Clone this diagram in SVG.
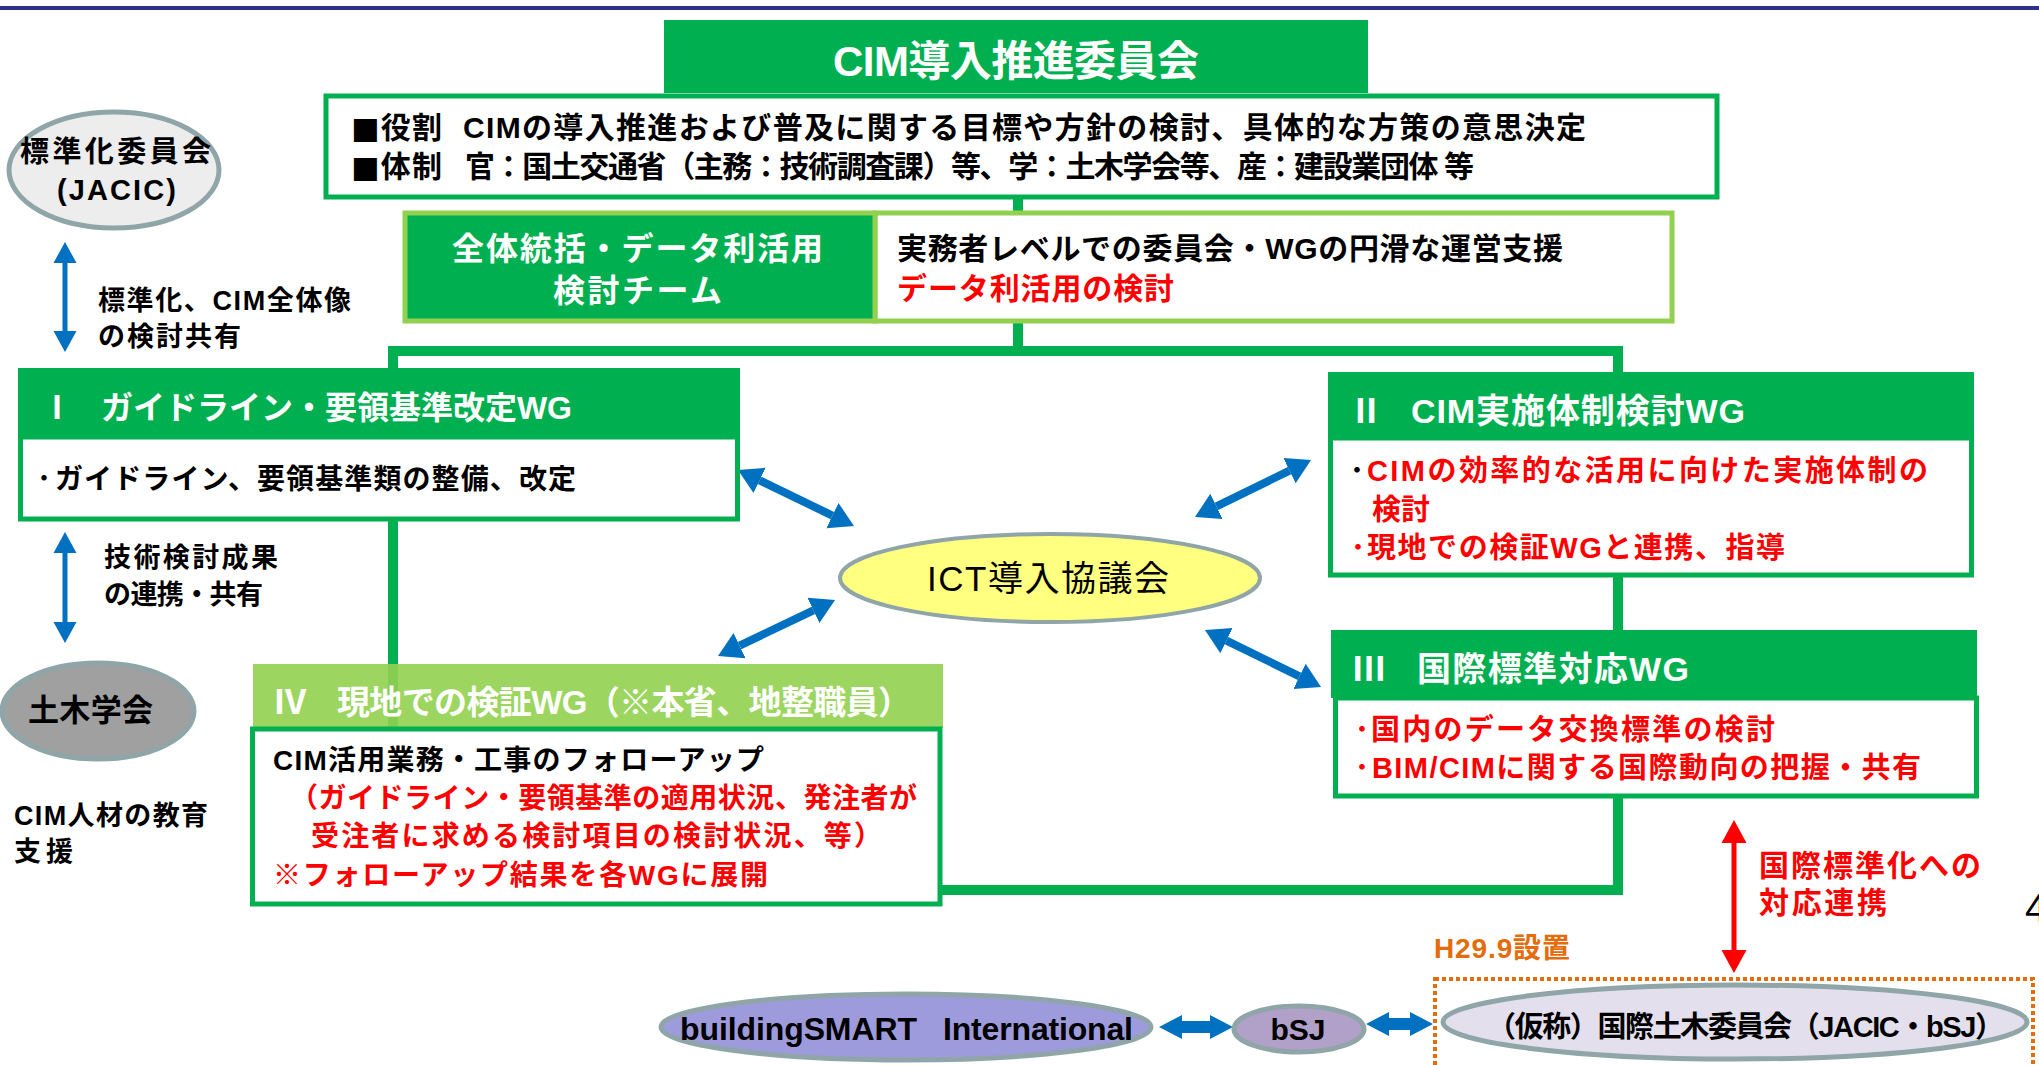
<svg xmlns="http://www.w3.org/2000/svg" width="2039" height="1065" viewBox="0 0 2039 1065">
<style>
.t{font-family:"Liberation Sans","Noto Sans CJK JP",sans-serif}
.sq{font-family:"DejaVu Sans",sans-serif}
.b{font-weight:bold}
.n{font-weight:normal}
.w{fill:#FFFFFF}
.k{fill:#000000}
.r{fill:#FF0000}
.o{fill:#E46C0A}
.hd{fill:#00B050}
.bd{fill:#FFFFFF;stroke:#00B050;stroke-width:5}
.el{stroke:#8FA5A8;stroke-width:5}
.conn{fill:none;stroke:#00B050;stroke-width:10}
.ba{fill:none;stroke:#0070C0}
.mid{text-anchor:middle}
</style>
<defs>
<marker id="ad" markerUnits="userSpaceOnUse" markerWidth="30" markerHeight="30" viewBox="0 -15 30 30" refX="0" refY="0" orient="auto-start-reverse"><path d="M0,-14 L24,0 L0,14 z" fill="#0070C0"/></marker>
<marker id="av" markerUnits="userSpaceOnUse" markerWidth="30" markerHeight="30" viewBox="0 -15 30 30" refX="0" refY="0" orient="auto-start-reverse"><path d="M0,-11.5 L21,0 L0,11.5 z" fill="#0070C0"/></marker>
<marker id="ar" markerUnits="userSpaceOnUse" markerWidth="30" markerHeight="30" viewBox="0 -15 30 30" refX="0" refY="0" orient="auto-start-reverse"><path d="M0,-12.5 L23,0 L0,12.5 z" fill="#FF0000"/></marker>
</defs>
<rect x="0" y="0" width="2039" height="1065" fill="#FFFFFF"/>
<rect x="0" y="6" width="2039" height="4" fill="#2E3182"/>

<g id="connectors">
<path class="conn" d="M1018,190 L1018,351"/>
<path class="conn" d="M393,372 L393,351 L1618,351 L1618,374"/>
<path class="conn" d="M393,515 L393,732"/>
<path class="conn" d="M1618,570 L1618,634"/>
<path class="conn" d="M1618,795 L1618,890 L938,890"/>
<path class="ba" stroke-width="8" marker-start="url(#ad)" marker-end="url(#ad)" d="M759.6,480.4 L832.4,515.6"/>
<path class="ba" stroke-width="8" marker-start="url(#ad)" marker-end="url(#ad)" d="M813.4,610.4 L739.6,645.6"/>
<path class="ba" stroke-width="8" marker-start="url(#ad)" marker-end="url(#ad)" d="M1289.5,470.6 L1216.5,506.4"/>
<path class="ba" stroke-width="8" marker-start="url(#ad)" marker-end="url(#ad)" d="M1226.5,640.6 L1299.5,676.4"/>
<path class="ba" stroke-width="5" marker-start="url(#av)" marker-end="url(#av)" d="M65,263 L65,331"/>
<path class="ba" stroke-width="5" marker-start="url(#av)" marker-end="url(#av)" d="M65,553 L65,622"/>
<path fill="none" stroke="#FF0000" stroke-width="5" marker-start="url(#ar)" marker-end="url(#ar)" d="M1734,843 L1734,950"/>
<polygon fill="#0070C0" points="1159,1027 1182,1015 1182,1021 1210,1021 1210,1015 1233,1027 1210,1039 1210,1033 1182,1033 1182,1039"/>
<polygon fill="#0070C0" points="1366,1024 1389,1012 1389,1018 1410,1018 1410,1012 1433,1024 1410,1036 1410,1030 1389,1030 1389,1036"/>
</g>

<g id="title">
<rect class="hd" x="664" y="20" width="704" height="73"/>
<text class="t b w" x="833" y="76" font-size="42" textLength="366">CIM導入推進委員会</text>
</g>

<g id="roles">
<rect class="bd" x="326" y="96" width="1391" height="101"/>
<text class="t b k" x="351" y="138" font-size="30" textLength="91"><tspan class="sq">■</tspan>役割</text>
<text class="t b k" x="463" y="138" font-size="30" textLength="1123">CIMの導入推進および普及に関する目標や方針の検討、具体的な方策の意思決定</text>
<text class="t b k" x="351" y="177" font-size="30" textLength="91"><tspan class="sq">■</tspan>体制</text>
<text class="t b k" x="465" y="177" font-size="30" textLength="1009">官：国土交通省（主務：技術調査課）等、学：土木学会等、産：建設業団体 等</text>
</g>

<g id="team">
<rect x="875" y="213" width="797" height="108" fill="#FFFFFF" stroke="#92D050" stroke-width="5"/>
<rect x="405" y="213" width="470" height="108" fill="#00B050" stroke="#92D050" stroke-width="5"/>
<text class="t b w" x="452" y="260" font-size="32" textLength="371">全体統括・データ利活用</text>
<text class="t b w" x="553" y="302" font-size="32" textLength="169">検討チーム</text>
<text class="t b k" x="897" y="259" font-size="30" textLength="666">実務者レベルでの委員会・WGの円滑な運営支援</text>
<text class="t b r" x="897" y="299" font-size="30" textLength="277">データ利活用の検討</text>
</g>

<g id="wg1">
<rect class="hd" x="18" y="368" width="722" height="70"/>
<rect class="bd" x="20.5" y="437" width="717" height="82"/>
<text class="t b w mid" x="57" y="419" font-size="32">Ⅰ</text>
<text class="t b w" x="101" y="419" font-size="32" textLength="471">ガイドライン・要領基準改定WG</text>
<text class="t b k mid" x="44" y="489" font-size="28">･</text>
<text class="t b k" x="55" y="489" font-size="28" textLength="521">ガイドライン、要領基準類の整備、改定</text>
</g>

<g id="wg2">
<rect class="hd" x="1328" y="372" width="646" height="68"/>
<rect class="bd" x="1330.5" y="438" width="641" height="137"/>
<text class="t b w mid" x="1366" y="423" font-size="34">Ⅱ</text>
<text class="t b w" x="1411" y="423" font-size="34" textLength="334">CIM実施体制検討WG</text>
<text class="t b k mid" x="1357" y="481" font-size="29">･</text>
<text class="t b r" x="1367" y="481" font-size="29" textLength="561">CIMの効率的な活用に向けた実施体制の</text>
<text class="t b r" x="1372" y="520" font-size="29">検討</text>
<text class="t b r mid" x="1358" y="558" font-size="29">･</text>
<text class="t b r" x="1367" y="558" font-size="29" textLength="418">現地での検証WGと連携、指導</text>
</g>

<g id="wg3">
<rect class="hd" x="1331" y="630" width="646" height="68"/>
<rect class="bd" x="1335.5" y="698" width="641" height="98"/>
<text class="t b w mid" x="1369" y="681" font-size="34">Ⅲ</text>
<text class="t b w" x="1417" y="681" font-size="34" textLength="272">国際標準対応WG</text>
<text class="t b r mid" x="1362" y="740" font-size="29">･</text>
<text class="t b r" x="1371" y="740" font-size="29" textLength="404">国内のデータ交換標準の検討</text>
<text class="t b r mid" x="1362" y="778" font-size="29">･</text>
<text class="t b r" x="1372" y="778" font-size="29" textLength="549">BIM/CIMに関する国際動向の把握・共有</text>
</g>

<g id="wg4">
<rect x="253" y="664" width="690" height="64" fill="#92D050" fill-opacity="0.9"/>
<rect class="bd" x="252.5" y="729" width="687.5" height="175"/>
<text class="t b w mid" x="290" y="714" font-size="34">Ⅳ</text>
<text class="t b w" x="337" y="714" font-size="33" textLength="574">現地での検証WG（※本省、地整職員）</text>
<text class="t b k" x="273" y="770" font-size="28" textLength="491">CIM活用業務・工事のフォローアップ</text>
<text class="t b r" x="290" y="808" font-size="28" textLength="627">（ガイドライン・要領基準の適用状況、発注者が</text>
<text class="t b r" x="311" y="846" font-size="28" textLength="571">受注者に求める検討項目の検討状況、等）</text>
<text class="t b r" x="273" y="885" font-size="28" textLength="495">※フォローアップ結果を各WGに展開</text>
</g>

<g id="jacic">
<ellipse class="el" cx="114" cy="170" rx="105" ry="58" fill="#EDEDED"/>
<text class="t b k" x="20" y="162" font-size="29" textLength="191">標準化委員会</text>
<text class="t b k" x="57" y="200" font-size="29" textLength="119">(JACIC)</text>
</g>

<g id="label-jacic">
<text class="t b k" x="98" y="310" font-size="27" textLength="253">標準化、CIM全体像</text>
<text class="t b k" x="98" y="346" font-size="27" textLength="143">の検討共有</text>
</g>

<g id="label-doboku">
<text class="t b k" x="104" y="567" font-size="27" textLength="174">技術検討成果</text>
<text class="t b k" x="104" y="604" font-size="27" textLength="159">の連携・共有</text>
</g>

<g id="doboku">
<ellipse class="el" cx="98" cy="711" rx="96" ry="48" fill="#A0A0A0"/>
<text class="t b k" x="28" y="721" font-size="31" textLength="125">土木学会</text>
</g>

<g id="label-education">
<text class="t b k" x="14" y="825" font-size="27" textLength="194">CIM人材の教育</text>
<text class="t b k" x="14" y="861" font-size="27" textLength="59">支援</text>
</g>

<g id="ict">
<ellipse cx="1050" cy="578" rx="210" ry="44" fill="#FFFF80" stroke="#8FA5A8" stroke-width="4"/>
<text class="t n k" x="927" y="591" font-size="35" textLength="242">ICT導入協議会</text>
</g>

<g id="bsi">
<ellipse class="el" cx="906" cy="1027" rx="245" ry="33" fill="#9E9BDC"/>
<text class="t b k" x="680" y="1040" font-size="32" textLength="237">buildingSMART</text>
<text class="t b k" x="943" y="1040" font-size="32" textLength="190">International</text>
</g>

<g id="bsj">
<ellipse class="el" cx="1299" cy="1029" rx="65" ry="23" fill="#B1A0C7"/>
<text class="t b k mid" x="1298" y="1040" font-size="30">bSJ</text>
</g>

<g id="intl">
<rect x="1435" y="979" width="598" height="110" fill="none" stroke="#E46C0A" stroke-width="4" stroke-dasharray="4 3"/>
<ellipse class="el" cx="1735" cy="1022" rx="292" ry="37" fill="#E4DFEC"/>
<text class="t b k" x="1487" y="1037" font-size="29" textLength="517">（仮称）国際土木委員会（JACIC・bSJ）</text>
</g>

<g id="label-h29">
<text class="t b o" x="1434" y="958" font-size="28" textLength="136">H29.9設置</text>
</g>

<g id="label-intl">
<text class="t b r" x="1759" y="876" font-size="30" textLength="222">国際標準化への</text>
<text class="t b r" x="1759" y="913" font-size="30" textLength="128">対応連携</text>
</g>

<text class="t n k" x="2025" y="922" font-size="40">4</text>
</svg>
